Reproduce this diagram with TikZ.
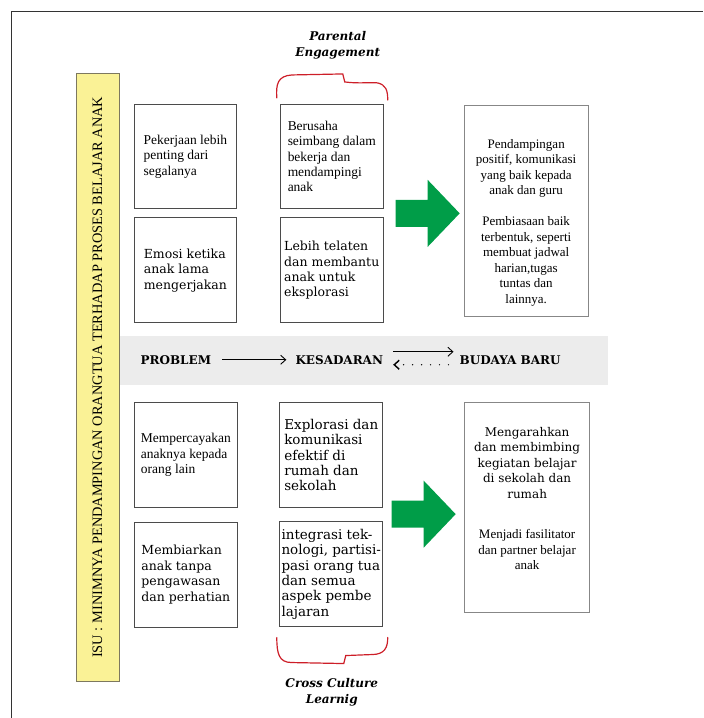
\documentclass[tikz,border=0pt]{standalone}
\usepackage{fontspec}
\setmainfont{DejaVu Serif}
\newfontfamily\lightfont{Liberation Serif}
\usetikzlibrary{arrows.meta,positioning}

\definecolor{cardgray}{RGB}{75,75,75}
\definecolor{resultgray}{RGB}{135,135,135}
\definecolor{bandgray}{RGB}{236,236,236}
\definecolor{issueyellow}{RGB}{250,242,150}
\definecolor{issueedge}{RGB}{125,120,95}
\definecolor{gogreen}{RGB}{0,157,72}
\definecolor{penred}{RGB}{205,30,40}

\begin{document}
\begin{tikzpicture}[
        x=1pt, y=-1pt,
        card/.style={draw=cardgray, line width=0.8pt, minimum width=103pt,
                minimum height=105pt, inner sep=0pt, align=left,
                font=\fontsize{12.5}{15.5}\selectfont},
        wide card/.style={card, font=\fontsize{13.5}{15.4}\selectfont},
        light card/.style={card, font=\lightfont\fontsize{13.5}{15.5}\selectfont},
        result/.style={draw=resultgray, line width=0.8pt, minimum width=124pt,
                minimum height=211pt, inner sep=0pt},
        band text/.style={font=\bfseries\fontsize{12}{14}\selectfont, inner sep=2pt},
        header/.style={font=\bfseries\itshape\fontsize{12}{16}\selectfont, align=center},
        flow/.style={-{Straight Barb[length=5pt,width=9pt]}, line width=0.9pt},
        brace/.style={draw=penred, line width=1.2pt, line cap=round},
    ]
    \newcommand*{\ShaftHalf}{13.5}
    \newcommand*{\HeadHalf}{33.5}

    % page frame, only top and left edge show
    \draw[line width=1pt, black!80] (703,12) -| (12,718);
    \useasboundingbox (0,0) rectangle (703,718);

    % the issue bar
    \node[draw=issueedge, fill=issueyellow, line width=0.8pt, rotate=90,
        minimum width=609pt, minimum height=43pt, inner sep=0pt,
        font=\lightfont\fontsize{14.4}{16}\selectfont]
        (issue) at (97.5,377.5)
        {ISU : MINIMNYA PENDAMPINGAN ORANGTUA TERHADAP PROSES BELAJAR ANAK};

    % upper half
    \node[light card] (prob1) at (185.5,156.5) {Pekerjaan lebih\\penting dari\\segalanya};
    \node[card] (prob2) at (185.5,270.5) {Emosi ketika\\anak lama\\mengerjakan};
    \node[light card] (aware1) at (332,156.5)
        {Berusaha\\seimbang dalam\\bekerja dan\\mendampingi\\anak};
    \node[card] (aware2) at (332,270.5)
        {Lebih telaten\\dan membantu\\anak untuk\\eksplorasi};
    \node[result] (result1) at (526.5,211) {};
    \node[font=\lightfont\fontsize{13}{15.5}\selectfont, align=center]
        (result1text) at (526.5,223)
        {Pendampingan\\positif, komunikasi\\yang baik kepada\\anak dan guru\\[15.5pt]
            Pembiasaan baik\\terbentuk, seperti\\membuat jadwal\\harian,tugas\\tuntas dan\\lainnya.};

    % the band in the middle
    \node[fill=bandgray, minimum width=488pt, minimum height=49pt, inner sep=0pt]
        (band) at (364,360.5) {};
    \node[band text] (problem) at (176,360) {PROBLEM};
    \node[band text] (aware) at (339.5,360) {KESADARAN};
    \node[band text] (culture) at (510.5,360) {BUDAYA BARU};
    \draw[flow, shorten <=9pt, shorten >=7pt] (problem.east) -- (aware.west);
    \draw[flow, shorten <=8pt, shorten >=4pt] ([yshift=8pt]aware.east) -- ([yshift=8pt]culture.west);
    \draw[flow, line cap=round, dash pattern=on 0pt off 9pt, line width=1.4pt,
        shorten <=9pt, shorten >=8pt]
        ([yshift=-5pt]culture.west) -- ([yshift=-5pt]aware.east);

    % lower half
    \node[light card] (prob3) at (186,455.5) {Mempercayakan\\anaknya kepada\\orang lain};
    \node[card] (prob4) at (186,575) {Membiarkan\\anak tanpa\\pengawasan\\dan perhatian};
    \node[wide card] (aware3) at (331.5,455.5)
        {Explorasi dan\\komunikasi\\efektif di\\rumah dan\\sekolah};
    \node[wide card] (aware4) at (331.5,574.5)
        {integrasi tek-\\nologi, partisi-\\pasi orang tua\\dan semua\\aspek pembe\\lajaran};
    \node[result, minimum width=125pt, minimum height=210pt] (result2) at (527.5,508) {};
    \node[font=\fontsize{12}{15.5}\selectfont, align=center]
        (result2text) at (527.5,499)
        {Mengarahkan\\dan membimbing\\kegiatan belajar\\di sekolah dan\\rumah\\[25pt]
            {\lightfont\fontsize{13}{15.5}\selectfont Menjadi fasilitator}\\
            {\lightfont\fontsize{13}{15.5}\selectfont dan partner belajar}\\
            {\lightfont\fontsize{13}{15.5}\selectfont anak}};

    % green arrows from awareness to new culture
    \foreach \ax/\ay in {396/213.5, 392/514.5} {
            \fill[gogreen]
            (\ax,\ay-\ShaftHalf) -- (\ax+32,\ay-\ShaftHalf) -- (\ax+32,\ay-\HeadHalf)
            -- (\ax+64,\ay) -- (\ax+32,\ay+\HeadHalf) -- (\ax+32,\ay+\ShaftHalf)
            -- (\ax,\ay+\ShaftHalf) -- cycle;
        }

    % hand drawn braces and their titles
    \node[header] (engage) at (338,45) {Parental\\Engagement};
    \draw[brace] (277,98) .. controls (276,84) and (278,76) .. (292,75)
        -- (343,74) -- (345,82) .. controls (360,84) and (372,82) .. (378,83)
        .. controls (386,85) and (388,90) .. (388,100);
    \draw[brace] (277,638) .. controls (277,654) and (279,663) .. (292,663)
        -- (344,664) -- (346,656) -- (372,655)
        .. controls (385,655) and (388,648) .. (388,638);
    \node[header] (crossing) at (332,692.5) {Cross Culture\\Learnig};
\end{tikzpicture}
\end{document}
